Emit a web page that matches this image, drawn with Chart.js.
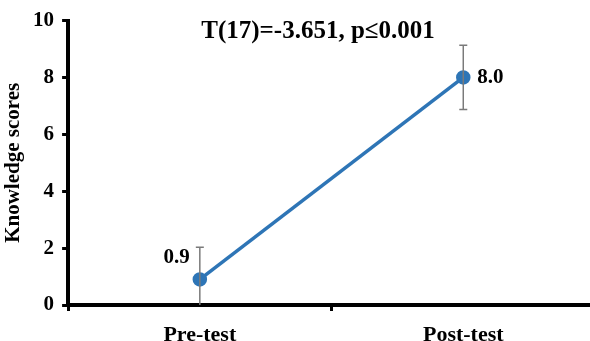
<!DOCTYPE html>
<html>
<head>
<meta charset="utf-8">
<script src="https://cdn.jsdelivr.net/npm/chart.js@4/dist/chart.umd.min.js"></script>
<style>
  html, body { margin: 0; padding: 0; background: #fff; overflow: hidden; }
  canvas { display: block; }
</style>
</head>
<body>
<canvas id="chart" width="604" height="341"></canvas>
<script>
'use strict';

// data
const categories = ['Pre-test', 'Post-test']
const meanScores = [0.9, 8.0]
const errorSizes = [1.13, 1.13]
const yTicks = [0, 2, 4, 6, 8, 10]
const titleText = 'T(17)=-3.651, p\u22640.001'

const serif = '"Liberation Serif", "Times New Roman", serif'
const blue = '#2E75B6'

// error bars, clipped to the plot area like the original
const errorBars = {
    id: 'errorBars',
    afterDatasetsDraw(chart) {
        const ctx = chart.ctx
        const y = chart.scales.y
        const area = chart.chartArea
        const pts = chart.getDatasetMeta(0).data
        ctx.save()
        ctx.beginPath()
        ctx.rect(area.left, area.top - 20, area.right - area.left, area.bottom - area.top + 20)
        ctx.clip()
        ctx.strokeStyle = '#7a7a7a'
        ctx.lineWidth = 1.5
        for (let i = 0; i < pts.length; i++) {
            const x = pts[i].x
            const top = y.getPixelForValue(meanScores[i] + errorSizes[i])
            const bot = y.getPixelForValue(meanScores[i] - errorSizes[i])
            ctx.beginPath()
            ctx.moveTo(x, top); ctx.lineTo(x, bot)
            ctx.moveTo(x - 4, top); ctx.lineTo(x + 4, top)
            ctx.moveTo(x - 4, bot); ctx.lineTo(x + 4, bot)
            ctx.stroke()
        }
        ctx.restore()
    }
}

// value labels + the test result text
const textBits = {
    id: 'textBits',
    afterDraw(chart) {
        const ctx = chart.ctx
        const pts = chart.getDatasetMeta(0).data
        ctx.save()
        ctx.fillStyle = '#000'
        ctx.font = 'bold 21px ' + serif
        ctx.textBaseline = 'middle'
        ctx.textAlign = 'right'
        ctx.fillText(meanScores[0].toFixed(1), pts[0].x - 10, pts[0].y - 22)
        ctx.textAlign = 'left'
        ctx.fillText(meanScores[1].toFixed(1), pts[1].x + 14, pts[1].y)

        ctx.font = 'bold 25px ' + serif
        ctx.textAlign = 'center'
        ctx.fillText(titleText, 318, 32)
        ctx.restore()
    }
}

const data = {
    labels: categories,
    datasets: [
        {
            label: 'Knowledge scores',
            data: meanScores,
            borderColor: blue,
            backgroundColor: blue,
            borderWidth: 3.5,
            pointRadius: 5.5,
            pointHoverRadius: 5.5,
            clip: false,
        },
    ]
}

const config = {
    type: 'line',
    data: data,
    options: {
        responsive: false,
        animation: false,
        layout: { padding: { top: 14, right: 6, left: 2, bottom: 0 } },
        plugins: {
            legend: { display: false },
            tooltip: { enabled: false },
        },
        scales: {
            x: {
                offset: true,
                afterFit(scale) { scale.height = 36 },
                border: { color: '#000', width: 4 },
                grid: { offset: true, drawOnChartArea: false, color: '#000', lineWidth: 3, tickLength: 6 },
                ticks: { color: '#000', font: { family: serif, size: 22, weight: 'bold', lineHeight: 1 }, padding: 13 },
            },
            y: {
                min: 0,
                max: 10,
                afterBuildTicks(scale) { scale.ticks = yTicks.map(v => ({ value: v })) },
                border: { color: '#000', width: 4 },
                grid: { drawOnChartArea: false, color: '#000', lineWidth: 3, tickLength: 6 },
                ticks: { color: '#000', font: { family: serif, size: 21, weight: 'bold' }, padding: 8 },
                title: {
                    display: true,
                    text: 'Knowledge scores',
                    color: '#000',
                    font: { family: serif, size: 21, weight: 'bold', lineHeight: 1.1 },
                    padding: { top: 0, bottom: 0 },
                },
            },
        },
    },
    plugins: [errorBars, textBits],
}

const resultChart = new Chart(document.getElementById('chart'), config)
</script>
</body>
</html>
